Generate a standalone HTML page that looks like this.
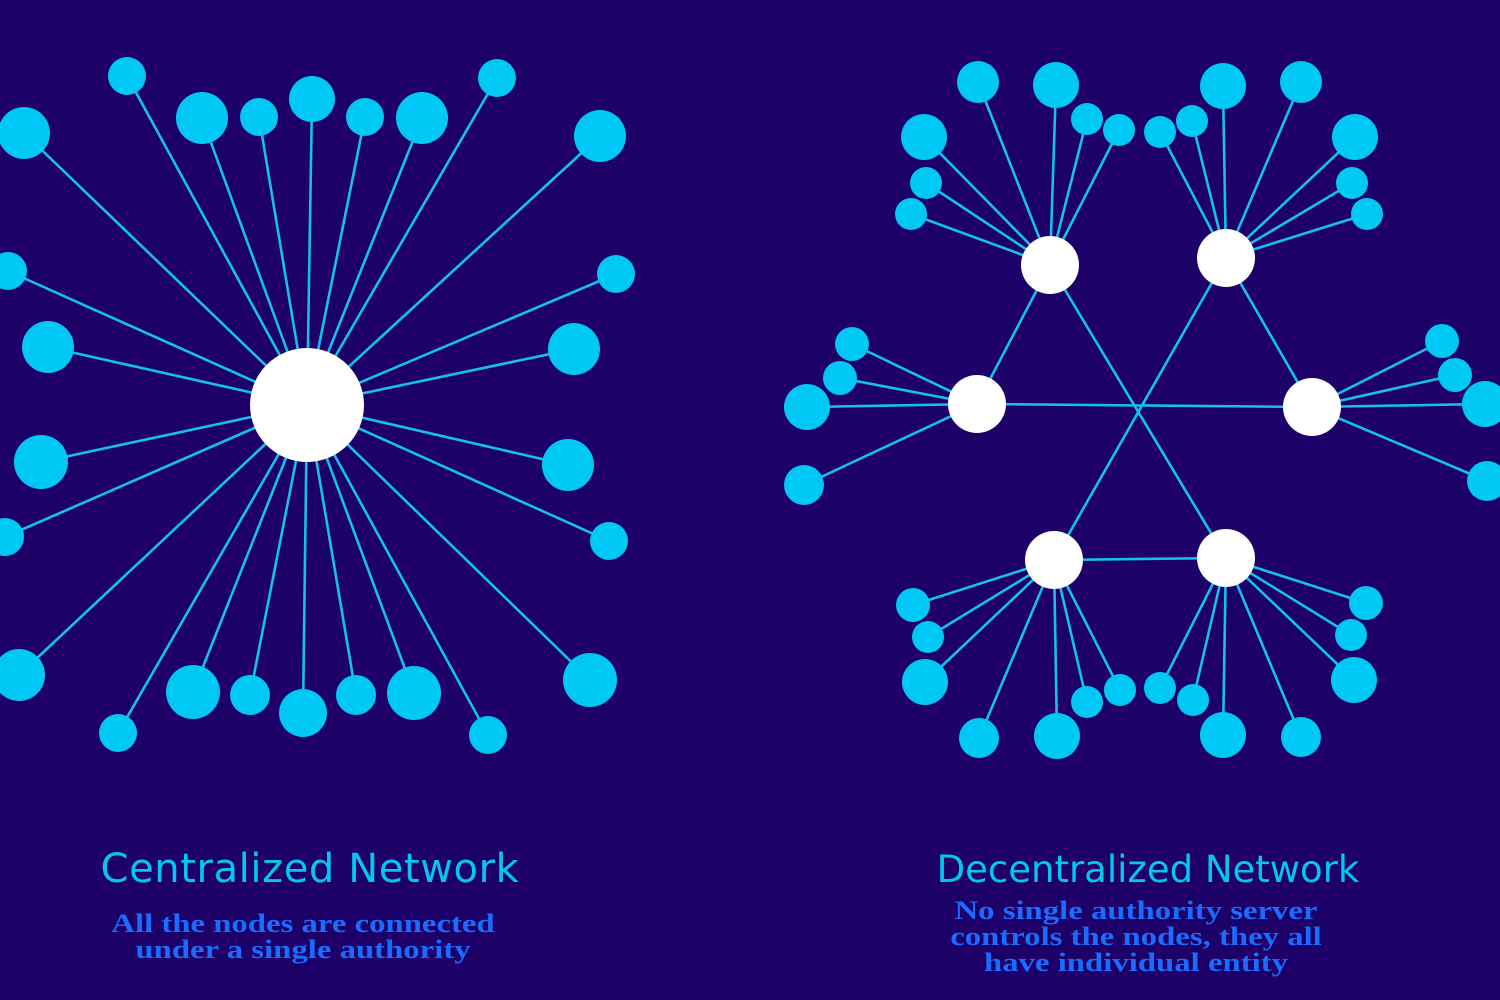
<!DOCTYPE html>
<html><head><style>
html,body{margin:0;padding:0;background:#1d0068;width:1500px;height:1000px;overflow:hidden}
.t{position:absolute;font-family:"DejaVu Sans","Liberation Sans",sans-serif;color:#00c8f0;font-size:40px;white-space:nowrap;text-align:center;letter-spacing:0.6px}
.s{position:absolute;font-family:"Liberation Serif",serif;font-weight:bold;color:#1a6cff;font-size:26px;line-height:26px;text-align:center;white-space:nowrap;transform:scaleX(1.26);transform-origin:center top}
</style></head><body>
<svg width="1500" height="1000" style="position:absolute;left:0;top:0">
<g id="c" stroke="#12c2ec" stroke-width="2.6"></g>
<g id="n" fill="#00c8f5"></g>
<g id="h" fill="#fff"></g>
</svg>
<div class="t" style="left:60px;top:846px;width:500px">Centralized Network</div>
<div class="s" style="left:58px;top:911px;width:490px">All the nodes are connected<br>under a single authority</div>
<div class="t" style="left:898px;top:848px;width:500px;font-size:37px;letter-spacing:0">Decentralized Network</div>
<div class="s" style="left:886px;top:898px;width:500px">No single authority server<br>controls the nodes, they all<br>have individual entity</div>
<script>
var NS="http://www.w3.org/2000/svg",C=document.getElementById('c'),N=document.getElementById('n'),H=document.getElementById('h');
function L(a,b,c,d){var l=document.createElementNS(NS,'line');l.setAttribute('x1',a);l.setAttribute('y1',b);l.setAttribute('x2',c);l.setAttribute('y2',d);C.appendChild(l);}
function O(g,x,y,r){var e=document.createElementNS(NS,'circle');e.setAttribute('cx',x);e.setAttribute('cy',y);e.setAttribute('r',r);g.appendChild(e);}
function hub(x,y,r,leaves){leaves.forEach(function(p){L(x,y,p[0],p[1]);O(N,p[0],p[1],p[2]);});O(H,x,y,r);}
hub(307,405,57,[[127,76,19],[202,118,26],[259,117,19],[312,99,23],[365,117,19],[422,118,26],[497,78,19],[24,133,26],[600,136,26],[8,271,19],[616,274,19],[48,347,26],[574,349,26],[41,462,27],[568,465,26],[5,537,19],[609,541,19],[19,675,26],[590,680,27],[118,733,19],[193,692,27],[250,695,20],[303,713,24],[356,695,20],[414,693,27],[488,735,19]]);
L(977,404,1312,407);L(1050,265,1226,558);L(1226,258,1054,560);L(1050,265,977,404);L(1226,258,1312,407);L(1054,560,1226,558);
hub(1050,265,29,[[978,82,21],[1056,85,23],[1087,119,16],[1119,130,16],[924,137,23],[926,183,16],[911,214,16]]);
hub(1226,258,29,[[1223,86,23],[1301,82,21],[1192,121,16],[1160,132,16],[1355,137,23],[1352,183,16],[1367,214,16]]);
hub(977,404,29,[[852,344,17],[840,378,17],[807,407,23],[804,485,20]]);
hub(1312,407,29,[[1442,341,17],[1455,375,17],[1485,404,23],[1487,481,20]]);
hub(1054,560,29,[[913,605,17],[928,637,16],[925,682,23],[979,738,20],[1057,736,23],[1087,702,16],[1120,690,16]]);
hub(1226,558,29,[[1160,688,16],[1193,700,16],[1223,735,23],[1301,737,20],[1366,603,17],[1351,635,16],[1354,680,23]]);
</script>
</body></html>
